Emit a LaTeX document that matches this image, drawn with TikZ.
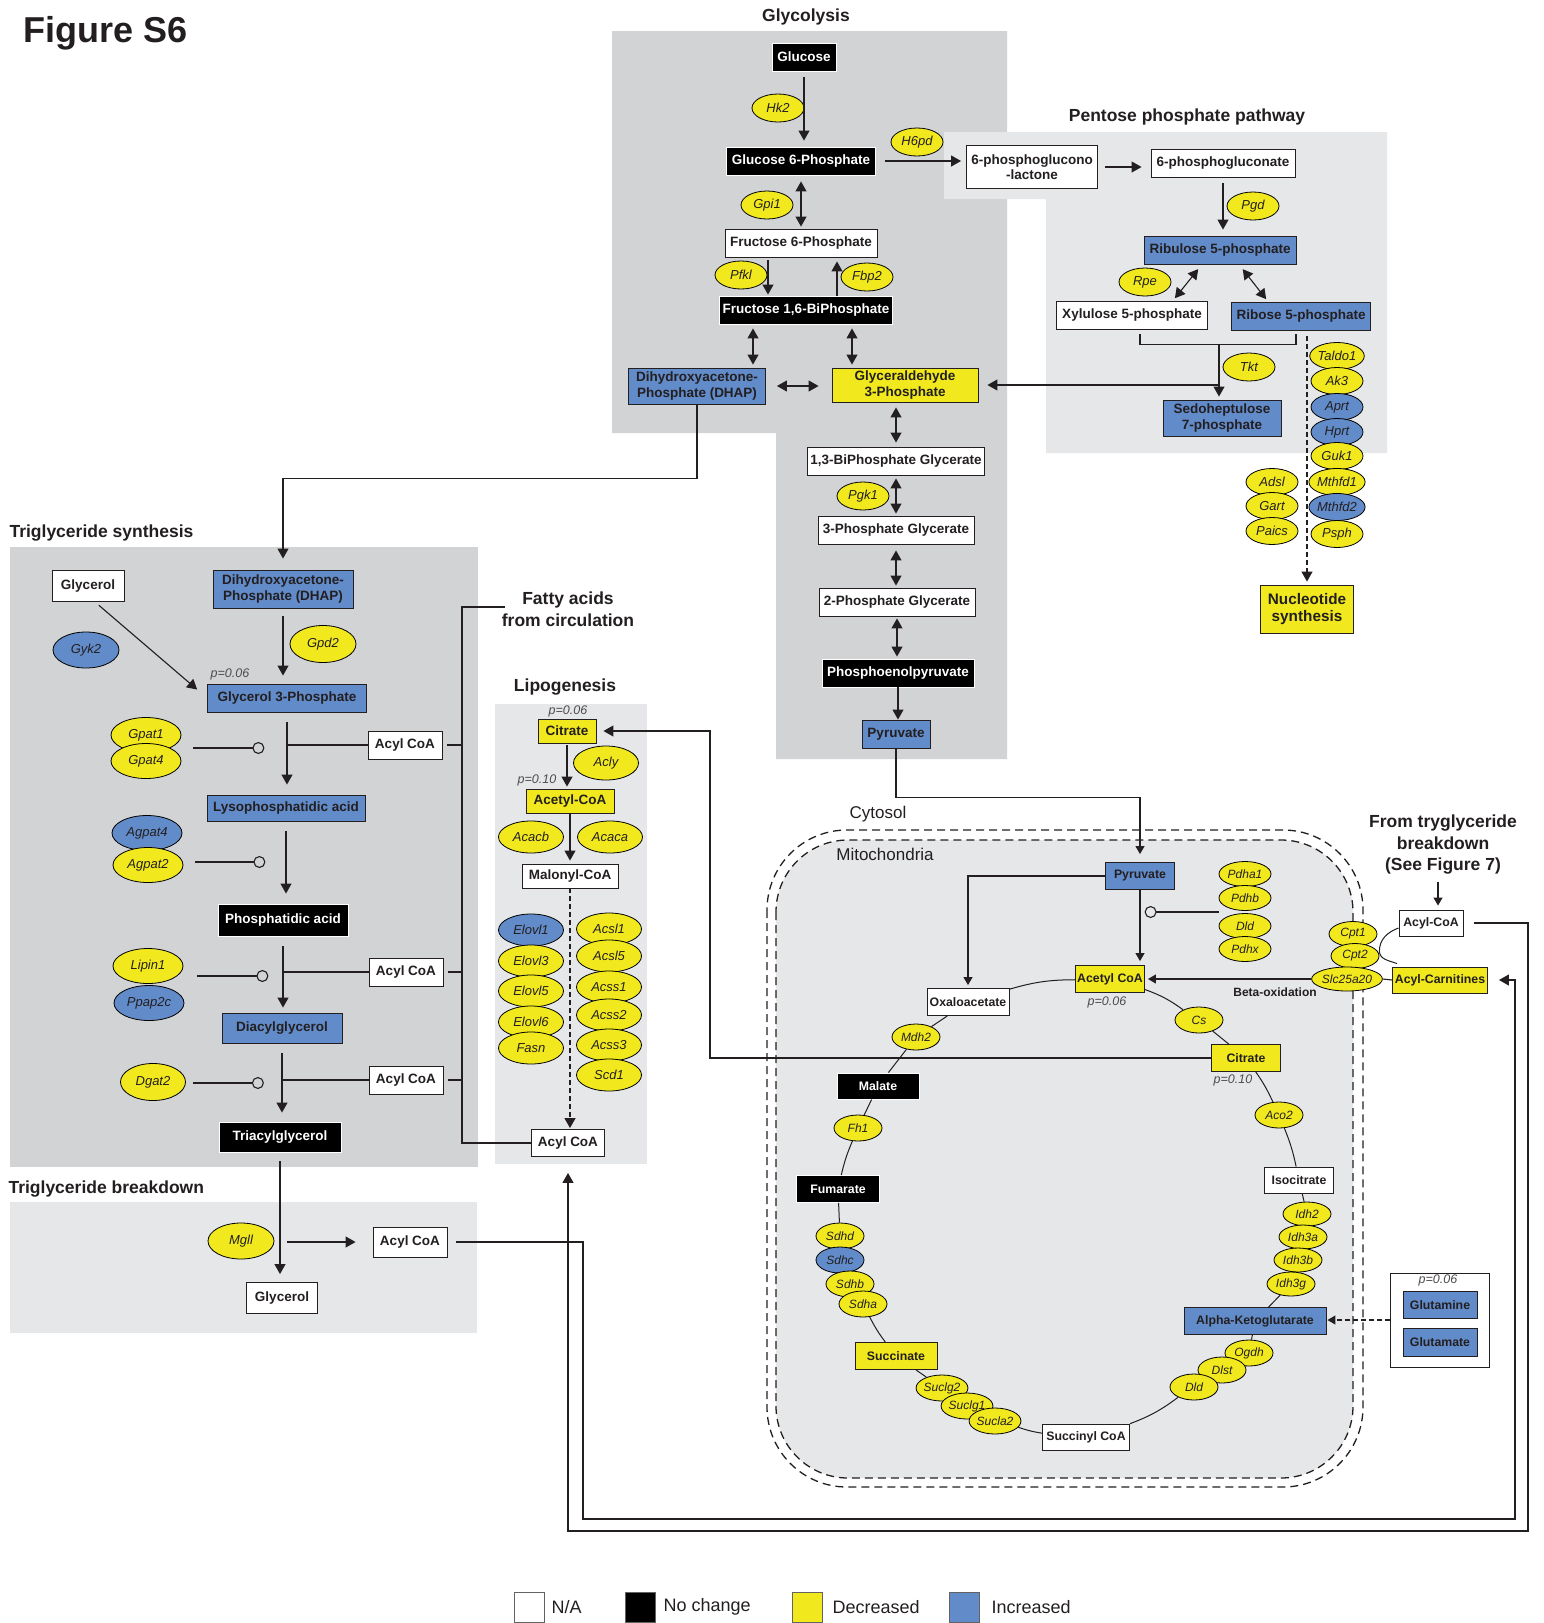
\documentclass[tikz,border=0pt]{standalone}
\usepackage{fontspec}
\setmainfont{Liberation Sans}
\usetikzlibrary{arrows.meta,shapes.geometric,calc}
\definecolor{yel}{RGB}{241,233,30}
\definecolor{blu}{RGB}{98,139,201}
\definecolor{dgray}{RGB}{209,211,212}
\definecolor{lgray}{RGB}{230,231,232}
\definecolor{ink}{RGB}{35,31,32}
\begin{document}
\begin{tikzpicture}[x=1pt,y=-1pt,line width=1.1pt,color=ink,>={Triangle[length=10pt,width=11pt]},
	metab/.style={draw=ink,line width=0.9pt,inner xsep=3pt,inner ysep=1pt,minimum height=28pt,align=center,text=ink,font=\bfseries\fontsize{13.5}{15.5}\selectfont},
	mna/.style={metab,fill=white},
	mnc/.style={metab,fill=black,draw=white,text=white},
	mdec/.style={metab,fill=yel},
	minc/.style={metab,fill=blu},
	mito/.style={font=\bfseries\fontsize{12.3}{14}\selectfont,minimum height=27pt,inner xsep=1pt},
	enz/.style={ellipse,draw=black,line width=0.8pt,fill=yel,inner sep=0pt,minimum width=52pt,minimum height=28pt,text=ink,font=\itshape\fontsize{13}{15}\selectfont},
	enzb/.style={enz,fill=blu},
	tgsz/.style={minimum width=70pt,minimum height=35pt},
	lpsz/.style={minimum width=65pt,minimum height=32pt},
	tcasz/.style={minimum width=48pt,minimum height=26pt,font=\itshape\fontsize{12}{14}\selectfont},
	pv/.style={text=ink!80,font=\itshape\fontsize{12.5}{14}\selectfont},
	ttl/.style={text=ink,align=center,font=\bfseries\fontsize{17.5}{21.5}\selectfont},
	inh/.style={-{Circle[open,length=12pt]}},
	smtip/.style={>={Triangle[length=8pt,width=9pt]}},
	dsh/.style={dash pattern=on 5pt off 3pt},
	memb/.style={line width=1.3pt,dash pattern=on 8pt off 5pt},
	sq/.style={draw=ink!70,line width=1pt,minimum size=30pt,inner sep=0pt},
	leg/.style={anchor=west,inner sep=0pt,text=ink,font=\fontsize{18}{20}\selectfont}]
	\useasboundingbox (0,0) rectangle (1543,1623);
	% regions
	\fill[dgray] (612,31) -- (1007,31) -- (1007,759) -- (776,759) -- (776,433) -- (612,433) -- cycle;
	\fill[lgray] (944,132) -- (1387,132) -- (1387,453) -- (1046,453) -- (1046,199) -- (944,199) -- cycle;
	\fill[dgray] (10,547) rectangle (478,1167);
	\fill[lgray] (10,1202) rectangle (477,1333);
	\fill[lgray] (495,704) rectangle (647,1164);
	\draw[memb,rounded corners=80pt] (767,830) rectangle (1363,1487);
	\draw[memb,rounded corners=72pt,fill=lgray] (776,840) rectangle (1353,1478);
	% titles
	\node[anchor=west,inner sep=0pt,text=ink,font=\bfseries\fontsize{36}{40}\selectfont] (tfig) at (23,33) {Figure S6};
	\node[ttl] (tglyc) at (806,17) {Glycolysis};
	\node[ttl] (tppp) at (1187,117) {Pentose phosphate pathway};
	\node[ttl,anchor=west,inner sep=0pt] (ttgs) at (9,533) {Triglyceride synthesis};
	\node[ttl,anchor=west,inner sep=0pt] (ttgb) at (8,1189) {Triglyceride breakdown};
	\node[ttl] (tlip) at (565,687) {Lipogenesis};
	\node[ttl,inner sep=0pt] (fa) at (568,609) {Fatty acids\\from circulation};
	\node[ttl] (ftg) at (1443,845) {From tryglyceride\\breakdown\\(See Figure 7)};
	\node[text=ink,font=\fontsize{17}{20}\selectfont] (tcyt) at (878,814) {Cytosol};
	\node[text=ink,font=\fontsize{17}{20}\selectfont] (tmit) at (885,854) {Mitochondria};
	\node[text=ink,font=\bfseries\fontsize{12}{14}\selectfont] (tbeta) at (1275,992) {Beta-oxidation};
	% glycolysis
	\node[mnc,minimum width=64pt] (glc) at (804,57) {Glucose};
	\node[mnc,minimum width=149pt] (g6p) at (801,161) {Glucose 6-Phosphate};
	\node[mna,minimum width=152pt] (f6p) at (801,243) {Fructose 6-Phosphate};
	\node[mnc,minimum width=173pt] (f16bp) at (806,310) {Fructose 1,6-BiPhosphate};
	\node[minc,minimum width=137pt,minimum height=36pt] (dhap) at (697,386) {Dihydroxyacetone-\\Phosphate (DHAP)};
	\node[mdec,minimum width=146pt,minimum height=34pt] (ga3p) at (905,385) {Glyceraldehyde\\3-Phosphate};
	\node[mna,minimum width=177pt] (bpg) at (896,461) {1,3-BiPhosphate Glycerate};
	\node[mna,minimum width=156pt] (pg3) at (896,530) {3-Phosphate Glycerate};
	\node[mna,minimum width=156pt] (pg2) at (897,602) {2-Phosphate Glycerate};
	\node[mnc,minimum width=152pt] (pep) at (898,673) {Phosphoenolpyruvate};
	\node[minc,minimum width=68pt] (pyr) at (896,734) {Pyruvate};
	\node[enz] (Hk2) at (778,108) {Hk2};
	\node[enz] (H6pd) at (917,142) {H6pd};
	\node[enz] (Gpi1) at (767,205) {Gpi1};
	\node[enz] (Pfkl) at (741,275) {Pfkl};
	\node[enz] (Fbp2) at (867,277) {Fbp2};
	\node[enz] (Pgk1) at (863,496) {Pgk1};
	% pentose phosphate pathway
	\node[mna,minimum width=131pt,minimum height=43pt] (pgl) at (1032,167) {6-phosphoglucono\\-lactone};
	\node[mna,minimum width=144pt] (pgn) at (1223,163) {6-phosphogluconate};
	\node[minc,minimum width=152pt] (ru5p) at (1220,250) {Ribulose 5-phosphate};
	\node[mna,minimum width=151pt] (xu5p) at (1132,315) {Xylulose 5-phosphate};
	\node[minc,minimum width=139pt] (r5p) at (1301,316) {Ribose 5-phosphate};
	\node[minc,minimum width=118pt,minimum height=36pt] (s7p) at (1222,418) {Sedoheptulose\\7-phosphate};
	\node[mdec,minimum width=93pt,minimum height=48pt,font=\bfseries\fontsize{15.3}{17}\selectfont] (nuc) at (1307,609) {Nucleotide\\synthesis};
	\node[enz] (Pgd) at (1253,206) {Pgd};
	\node[enz] (Rpe) at (1145,282) {Rpe};
	\node[enz] (Tkt) at (1249,367) {Tkt};
	\foreach \n/\y/\col in {Taldo1/356/yel,Ak3/381/yel,Aprt/407/blu,Hprt/432/blu,Guk1/456/yel,Mthfd1/482/yel,Mthfd2/507/blu,Psph/534/yel}
		\node[enz,fill=\col,minimum height=27pt] (\n) at (1337,\y) {\n};
	\foreach \n/\y in {Adsl/482,Gart/506,Paics/531}
		\node[enz,minimum height=27pt] (\n) at (1272,\y) {\n};
	% triglyceride synthesis
	\node[mna,minimum width=72pt,minimum height=31pt] (gly) at (88,586) {Glycerol};
	\node[minc,minimum width=140pt,minimum height=38pt] (tdhap) at (283,589) {Dihydroxyacetone-\\Phosphate (DHAP)};
	\node[minc,minimum width=159pt] (g3p) at (287,698) {Glycerol 3-Phosphate};
	\node[minc,minimum width=158pt,minimum height=26pt] (lpa) at (286,808) {Lysophosphatidic acid};
	\node[mnc,minimum width=130pt,minimum height=32pt] (pa) at (283,920) {Phosphatidic acid};
	\node[minc,minimum width=120pt,minimum height=30pt] (dag) at (282,1028) {Diacylglycerol};
	\node[mnc,minimum width=122pt,minimum height=30pt] (tag) at (280,1137) {Triacylglycerol};
	\node[mna,minimum width=74pt] (acyl1) at (405,745) {Acyl CoA};
	\node[mna,minimum width=74pt] (acyl2) at (406,972) {Acyl CoA};
	\node[mna,minimum width=74pt] (acyl3) at (406,1080) {Acyl CoA};
	\node[pv] (p1) at (230,674) {p=0.06};
	\node[enzb,minimum width=66pt,minimum height=36pt] (Gyk2) at (86,650) {Gyk2};
	\node[enz,minimum width=66pt,minimum height=37pt] (Gpd2) at (323,644) {Gpd2};
	\node[enz,tgsz] (Gpat1) at (146,735) {Gpat1};
	\node[enz,tgsz] (Gpat4) at (146,761) {Gpat4};
	\node[enzb,tgsz] (Agpat4) at (147,833) {Agpat4};
	\node[enz,tgsz] (Agpat2) at (148,865) {Agpat2};
	\node[enz,tgsz] (Lipin1) at (148,966) {Lipin1};
	\node[enzb,tgsz] (Ppap2c) at (149,1003) {Ppap2c};
	\node[enz,minimum width=65pt,minimum height=37pt] (Dgat2) at (153,1082) {Dgat2};
	% triglyceride breakdown
	\node[enz,minimum width=66pt,minimum height=36pt] (Mgll) at (241,1241) {Mgll};
	\node[mna,minimum width=74pt,minimum height=30pt] (bacyl) at (410,1242) {Acyl CoA};
	\node[mna,minimum width=71pt,minimum height=31pt] (bgly) at (282,1298) {Glycerol};
	% lipogenesis
	\node[mdec,minimum width=58pt,minimum height=24pt] (lcit) at (567,731) {Citrate};
	\node[mdec,minimum width=88pt,minimum height=24pt] (lacoa) at (570,801) {Acetyl-CoA};
	\node[mna,minimum width=96pt,minimum height=24pt] (malo) at (570,876) {Malonyl-CoA};
	\node[mna,minimum width=73pt,minimum height=27pt] (lacyl) at (568,1143) {Acyl CoA};
	\node[pv] (p2) at (568,711) {p=0.06};
	\node[pv] (p3) at (537,780) {p=0.10};
	\node[enz,lpsz,minimum height=34pt] (Acly) at (606,763) {Acly};
	\node[enz,lpsz] (Acacb) at (531,837) {Acacb};
	\node[enz,lpsz] (Acaca) at (610,837) {Acaca};
	\foreach \n/\y/\col in {Elovl1/930/blu,Elovl3/961/yel,Elovl5/991/yel,Elovl6/1022/yel,Fasn/1048/yel}
		\node[enz,lpsz,fill=\col] (\n) at (531,\y) {\n};
	\foreach \n/\y in {Acsl1/929,Acsl5/956,Acss1/987,Acss2/1015,Acss3/1045,Scd1/1075}
		\node[enz,lpsz] (\n) at (609,\y) {\n};
	% mitochondria
	\node[minc,mito,minimum width=69pt] (mpyr) at (1140,876) {Pyruvate};
	\node[mdec,mito,minimum width=69pt] (acoa) at (1110,979) {Acetyl CoA};
	\node[mna,mito,minimum width=82pt] (oaa) at (968,1002) {Oxaloacetate};
	\node[mdec,mito,minimum width=69pt] (mcit) at (1246,1058) {Citrate};
	\node[mna,mito,minimum width=69pt,minimum height=26pt] (iso) at (1299,1180) {Isocitrate};
	\node[minc,mito,minimum width=142pt] (akg) at (1255,1321) {Alpha-Ketoglutarate};
	\node[mna,mito,minimum width=87pt,minimum height=26pt] (succoa) at (1086,1437) {Succinyl CoA};
	\node[mdec,mito,minimum width=82pt] (succ) at (896,1356) {Succinate};
	\node[mnc,mito,minimum width=83pt] (fum) at (838,1189) {Fumarate};
	\node[mnc,mito,minimum width=82pt,minimum height=26pt] (mal) at (878,1086) {Malate};
	\node[mna,mito,minimum width=64pt,minimum height=26pt] (tacoa) at (1431,923) {Acyl-CoA};
	\node[mdec,mito,minimum width=95pt,minimum height=26pt] (acar) at (1440,980) {Acyl-Carnitines};
	\node[pv] (p4) at (1107,1002) {p=0.06};
	\node[pv] (p5) at (1233,1080) {p=0.10};
	\foreach \n/\t/\y in {Pdha1/Pdha1/874,Pdhb/Pdhb/898,pdld/Dld/926,Pdhx/Pdhx/949}
		\node[enz,tcasz,minimum width=52pt,minimum height=25pt] (\n) at (1245,\y) {\t};
	\node[enz,tcasz] (Cs) at (1199,1020) {Cs};
	\node[enz,tcasz] (Aco2) at (1279,1115) {Aco2};
	\foreach \n/\x/\y in {Idh2/1307/1214,Idh3a/1303/1237,Idh3b/1298/1260,Idh3g/1291/1284}
		\node[enz,tcasz,minimum height=24pt] (\n) at (\x,\y) {\n};
	\node[enz,tcasz] (Ogdh) at (1249,1353) {Ogdh};
	\node[enz,tcasz] (Dlst) at (1222,1370) {Dlst};
	\node[enz,tcasz] (tdld) at (1194,1387) {Dld};
	\node[enz,tcasz] (Suclg2) at (942,1388) {Suclg2};
	\node[enz,tcasz] (Suclg1) at (967,1406) {Suclg1};
	\node[enz,tcasz] (Sucla2) at (995,1421) {Sucla2};
	\node[enz,tcasz] (Sdhd) at (840,1236) {Sdhd};
	\node[enzb,tcasz] (Sdhc) at (840,1260) {Sdhc};
	\node[enz,tcasz] (Sdhb) at (850,1284) {Sdhb};
	\node[enz,tcasz] (Sdha) at (863,1304) {Sdha};
	\node[enz,tcasz] (Fh1) at (858,1128) {Fh1};
	\node[enz,tcasz] (Mdh2) at (916,1037) {Mdh2};
	\node[enz,tcasz,minimum height=25pt] (Cpt1) at (1353,934) {Cpt1};
	\node[enz,tcasz,minimum height=25pt] (Cpt2) at (1355,956) {Cpt2};
	\node[enz,tcasz,minimum width=64pt,minimum height=24pt] (Slc25a20) at (1347,979) {Slc25a20};
	\node[draw=ink,fill=white,line width=1pt,minimum width=99pt,minimum height=94pt,inner sep=0pt] (glnbox) at (1440,1320) {};
	\node[pv] (p6) at (1438,1280) {p=0.06};
	\node[minc,mito,minimum width=74pt] (gln) at (1440,1305) {Glutamine};
	\node[minc,mito,minimum width=74pt,minimum height=28pt] (glu) at (1440,1342) {Glutamate};
	% legend
	\node[sq,fill=white] (lgna) at (529,1607) {};
	\node[leg] (lgnat) at (551,1607) {N/A};
	\node[sq,fill=black] (lgnc) at (640,1607) {};
	\node[leg] (lgnct) at (663,1607) {No change};
	\node[sq,fill=yel] (lgdec) at (807,1607) {};
	\node[leg] (lgdect) at (832,1607) {Decreased};
	\node[sq,fill=blu] (lginc) at (964,1607) {};
	\node[leg] (lginct) at (991,1607) {Increased};
	% glycolysis connectors
	\draw[->,shorten <=6pt,shorten >=6pt] (glc.south) -- (glc.south |- g6p.north);
	\draw[<->,shorten <=6pt,shorten >=2pt] (g6p.south) -- (f6p.north);
	\draw[->,shorten <=3pt,shorten >=1pt] ([xshift=-33pt]f6p.south) -- ([xshift=-38pt]f16bp.north);
	\draw[->,shorten >=4pt] ([xshift=31pt]f16bp.north) -- ([xshift=36pt]f6p.south);
	\draw[<->,shorten <=4pt,shorten >=3pt] ([xshift=-53pt]f16bp.south) -- ([xshift=56pt]dhap.north);
	\draw[<->,shorten <=4pt,shorten >=3pt] ([xshift=46pt]f16bp.south) -- ([xshift=-53pt]ga3p.north);
	\draw[<->,shorten <=11pt,shorten >=13pt] (dhap.east) -- (dhap.east -| ga3p.west);
	\draw[<->,shorten <=5pt,shorten >=4pt] (bpg.north |- ga3p.south) -- (bpg.north);
	\draw[<->,shorten <=3pt,shorten >=2pt] (bpg.south) -- (pg3.north);
	\draw[<->,shorten <=6pt,shorten >=2pt] (pg3.south) -- (pg3.south |- pg2.north);
	\draw[<->,shorten <=2pt,shorten >=2pt] (pg2.south) -- (pg2.south |- pep.north);
	\draw[->] (pep.south) -- (pep.south |- pyr.north);
	\draw[->,shorten <=9pt,shorten >=5pt] (g6p.east) -- (g6p.east -| pgl.west);
	\draw[->,shorten >=11pt] (dhap.south) -- ++(0,74) -| (tdhap.north);
	% pentose connectors
	\draw[->,shorten <=7pt,shorten >=9pt] (pgl.east) -- (pgl.east -| pgn.west);
	\draw[->,shorten <=6pt,shorten >=6pt] (pgn.south) -- (pgn.south |- ru5p.north);
	\draw[<->,shorten <=6pt,shorten >=3pt] ([xshift=-18pt]ru5p.south) -- ([xshift=41pt]xu5p.north);
	\draw[<->,shorten <=6pt,shorten >=3pt] ([xshift=19pt]ru5p.south) -- ([xshift=-33pt]r5p.north);
	\draw ([xshift=8pt,yshift=-5pt]xu5p.south) -- ([xshift=8pt,yshift=-15pt]xu5p.south) -| ([xshift=-5pt,yshift=-4pt]r5p.south);
	\coordinate (tk) at (1219,345);
	\draw[->,shorten >=3pt] (tk) -- (tk |- s7p.north);
	\draw[->,shorten >=9pt] (tk |- ga3p.east) -- (ga3p.east);
	\draw[->,dsh,shorten <=6pt,shorten >=3pt] (nuc.north |- r5p.south) -- (nuc.north);
	% triglyceride connectors
	\draw[->,shorten <=5pt,shorten >=13pt] ([xshift=7pt]gly.south) -- (g3p.west);
	\draw[->,shorten <=8pt,shorten >=8pt] (tdhap.south) -- (tdhap.south |- g3p.north);
	\draw[->,shorten <=10pt,shorten >=10pt] (g3p.south) -- (g3p.south |- lpa.north);
	\draw[->,shorten <=10pt,shorten >=10pt] (lpa.south) -- (lpa.south |- pa.north);
	\draw[->,shorten <=10pt,shorten >=5pt] (pa.south) -- (pa.south |- dag.north);
	\draw[->,shorten <=10pt,shorten >=9pt] (dag.south) -- (dag.south |- tag.north);
	\draw[->,shorten <=9pt,shorten >=8pt] (tag.south) -- (tag.south |- bgly.north);
	\draw (acyl1.west) -- (acyl1.west -| g3p.south);
	\draw (acyl2.west) -- (acyl2.west -| pa.south);
	\draw (acyl3.west) -- (acyl3.west -| dag.south);
	\draw[inh] ($(Gpat1.east)!.5!(Gpat4.east)+(12,0)$) -- ++(71,0);
	\draw[inh] ($(Agpat2.east)+(12,-3)$) -- ++(70,0);
	\draw[inh] ($(Lipin1.east)+(14,10)$) -- ++(71,0);
	\draw[inh] ($(Dgat2.east)+(7,1)$) -- ++(71,0);
	\coordinate (bus) at (462,900);
	\draw ([xshift=4pt,yshift=2pt]fa.west) -| (bus) |- (lacyl.west);
	\draw ([xshift=5pt]acyl1.east) -- (acyl1.east -| bus);
	\draw ([xshift=5pt]acyl2.east) -- (acyl2.east -| bus);
	\draw ([xshift=5pt]acyl3.east) -- (acyl3.east -| bus);
	\draw[->,shorten <=2pt,shorten >=17pt] ([xshift=5pt]bacyl.west -| tag.south) -- (bacyl.west);
	% lipogenesis connectors
	\draw[->,shorten <=2pt,shorten >=2pt] (lcit.south) -- (lcit.south |- lacoa.north);
	\draw[->,shorten >=3pt] (lacoa.south) -- (lacoa.south |- malo.north);
	\draw[->,dsh,shorten >=1pt] (malo.south) -- (malo.south |- lacyl.north);
	\coordinate (cx) at (710,900);
	\draw[->,shorten >=7pt] (mcit.west) -| (cx) |- (lcit.east);
	% mitochondria connectors
	\draw[->,smtip,shorten >=8pt] (pyr.south) -- ++(0,49) -| (mpyr.north);
	\draw[->,smtip,shorten >=3pt] (mpyr.west) -| (oaa.north);
	\draw[->,smtip,shorten >=4pt] (mpyr.south) -- (mpyr.south |- acoa.north);
	\draw[inh] ($(Pdhb.west)!.5!(pdld.west)$) -- ++(-74,0);
	\draw[->,smtip,shorten >=3pt] (Slc25a20.west) -- (acoa.east);
	\draw (Slc25a20.east) -- (acar.west);
	\draw[line width=1pt] ([yshift=-5pt]tacoa.west) to[out=200,in=90] ([yshift=5pt]Cpt2.east) to[out=-90,in=160] ([xshift=5pt,yshift=3pt]acar.north west);
	\draw[->,smtip,shorten <=3pt,shorten >=4pt] ([xshift=-5pt]ftg.south) -- ([xshift=-5pt]ftg.south |- tacoa.north);
	\draw[->,smtip,dsh,shorten >=1pt] (glnbox.west) -- (glnbox.west -| akg.east);
	\begin{scope}[line width=1pt]
		\draw (oaa) to[bend left=8] (acoa);
		\draw (acoa) to[bend left=8] (Cs);
		\draw (Cs) -- (mcit);
		\draw (mcit) to[bend left=5] (Aco2);
		\draw (Aco2) to[bend left=5] (iso);
		\draw (iso) -- (Idh2);
		\draw (Idh3g) -- (akg);
		\draw (akg) -- (Ogdh);
		\draw (tdld) to[bend left=8] (succoa);
		\draw (succoa) to[bend left=5] (Sucla2);
		\draw (Suclg2) -- (succ);
		\draw (succ) to[bend left=5] (Sdha);
		\draw (Sdhd) -- (fum);
		\draw (fum) to[bend left=5] (Fh1);
		\draw (Fh1) -- (mal);
		\draw (mal) -- (Mdh2);
		\draw (Mdh2) -- (oaa);
	\end{scope}
	% long loops
	\coordinate (lpA) at (583,1519);
	\coordinate (lpB) at (1515,1519);
	\coordinate (lpC) at (1528,1531);
	\draw[->,shorten >=11pt] ([xshift=9pt]bacyl.east) -| (lpA) -- (lpB) |- (acar.east);
	\draw[->,shorten >=16pt] ([xshift=11pt]tacoa.east) -| (lpC) -| (lacyl.south);
\end{tikzpicture}
\end{document}
